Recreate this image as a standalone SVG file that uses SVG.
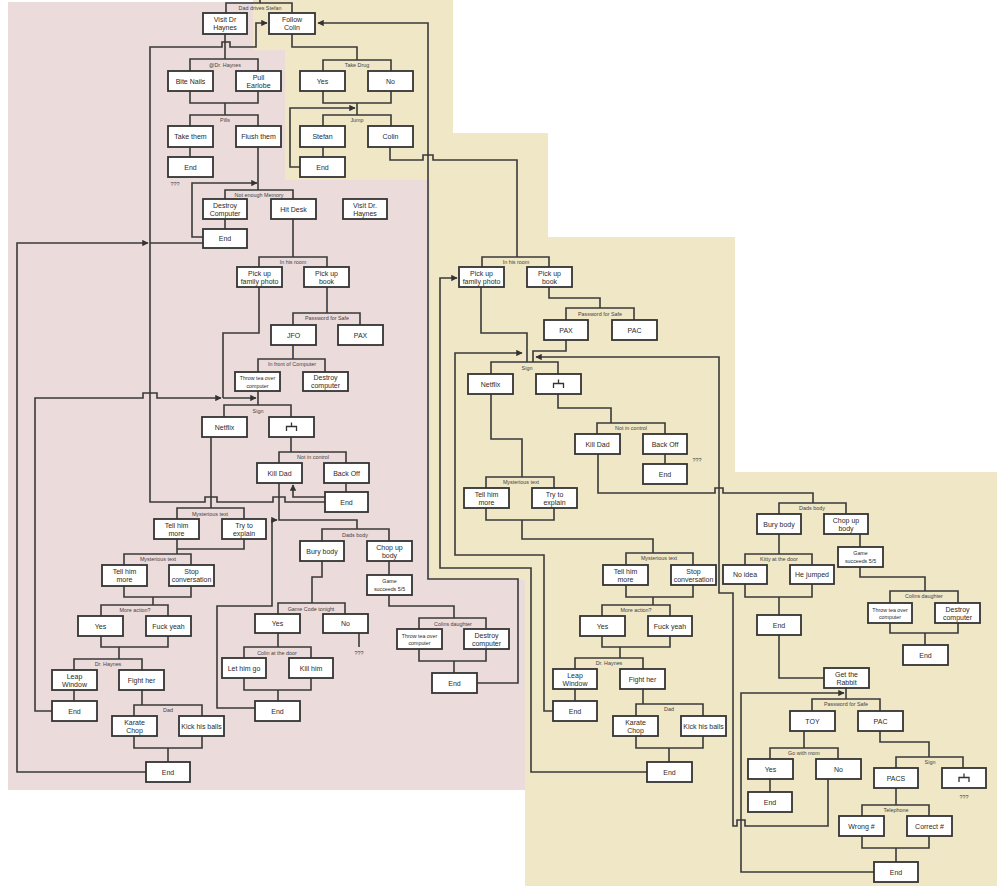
<svg xmlns="http://www.w3.org/2000/svg" width="1000" height="886" viewBox="0 0 1000 886">
<style>
.bg-y{fill:#efe7c6}
.bg-p{fill:#ecdbdb}
.node rect{fill:#fff;stroke:#333;stroke-width:1.8}
.node text{font-family:"Liberation Sans",Arial,sans-serif;font-size:7px;fill:#2a2a2a;text-anchor:middle}
.node text.s{font-size:5.3px}
.node .sym{fill:none;stroke:#333;stroke-width:1.3}
#connectors path{fill:none;stroke:#3a3a3a;stroke-width:1.6}
#labels text{font-family:"Liberation Sans",Arial,sans-serif;font-size:5.4px;fill:#444;text-anchor:middle}
</style>
<defs>
<marker id="arr" viewBox="0 0 10 10" refX="9" refY="5" markerWidth="4" markerHeight="4" orient="auto"><path d="M0,0 L10,5 L0,10 z" fill="#333"/></marker>
</defs>
<rect width="1000" height="886" fill="#fff"/>
<path class="bg-y" d="M253,0 H453 V133 H548 V237 H735 V472 H997 V886 H525 V790 H253 Z"/>
<path class="bg-p" d="M8,2 H253 V50 H285 V180 H430 V580 H525 V790 H8 Z"/>

<g id="connectors">
<path d="M260,0 V3 M226,13 V3 H292 V13"/>
<path d="M292,34 V47 H357 V60 M323,71 V60 H391 V71"/>
<path d="M323,91 V103 H391 V91 M357,103 V115 M323,126 V115 H391 V126"/>
<path d="M323,147 V157"/>
<path d="M300,167 H290 V108 H355" marker-end="url(#arr)"/>
<path d="M390,147 V160 H423 V155 H433 V160 H517 V257 M482,267 V257 H549 V267"/>
<path d="M225,34 V59 M190,71 V59 H258 V71"/>
<path d="M190,91 V103 H258 V91 M225,103 V115 M190,126 V115 H258 V126"/>
<path d="M190,147 V157"/>
<path d="M258,147 V190 M225,199 V190 H293 V199"/>
<path d="M225,219 V229"/>
<path d="M203,237 H192 V183 H257" marker-end="url(#arr)"/>
<path d="M146,772 H17 V243 H148" marker-end="url(#arr)"/>
<path d="M150,243 H203"/>
<path d="M325,502 H285 V497 H273 V502 H217 V497 H205 V502 H150 V47 H222 V42 H230 V47 H256 V23 H267" marker-end="url(#arr)"/>
<path d="M325,497 H293 V485" marker-end="url(#arr)"/>
<path d="M346,483 V492"/>
<path d="M291,437 V452 M279,463 V452 H346 V463"/>
<path d="M279,483 V520 H357 V529 M322,541 V529 H389 V541"/>
<path d="M255,708 H217 V606 H272 V520 H277" marker-end="url(#arr)"/>
<path d="M322,561 V577 H312 V603 M278,614 V603 H345 V614"/>
<path d="M359,633 V647"/>
<path d="M278,633 V647 M244,658 V647 H311 V658"/>
<path d="M244,678 V690 H311 V678 M278,690 V701"/>
<path d="M389,561 V575"/>
<path d="M389,595 V606 H454 V618 M419,629 V618 H486 V629"/>
<path d="M419,649 V661 H486 V649 M454,661 V673"/>
<path d="M477,683 H518 V579 H428 V23 H318" marker-end="url(#arr)"/>
<path d="M293,219 V257 M259,267 V257 H327 V267"/>
<path d="M327,287 V313 M293,325 V313 H360 V325"/>
<path d="M293,345 V359 M258,372 V359 H325 V372"/>
<path d="M258,391 V405 M224,417 V405 H291 V417"/>
<path d="M259,287 V333 H223 V398"/>
<path d="M52,711 H35 V398 H143 V393 H157 V398 H221" marker-end="url(#arr)"/>
<path d="M223,398 H256" marker-end="url(#arr)"/>
<path d="M211,437 V508 M177,519 V508 H244 V519"/>
<path d="M177,539 V549 H244 V539 M177,549 V554 M124,565 V554 H191 V565"/>
<path d="M124,586 V597 H191 V586 M153,597 V605 M101,616 V605 H168 V616"/>
<path d="M101,636 V647 H168 V636 M119,647 V659 M74,670 V659 H142 V670"/>
<path d="M74,690 V701"/>
<path d="M142,690 V705 M134,716 V705 H202 V716"/>
<path d="M134,736 V748 H202 V736 M168,748 V762"/>

<path d="M481,287 V333 H527 V362"/>
<path d="M549,287 V298 H600 V308 M566,320 V308 H634 V320"/>
<path d="M566,340 V351 H533 V362 M491,374 V362 H558 V374"/>
<path d="M553,711 H544 V555 H455 V353 H522" marker-end="url(#arr)"/>
<path d="M828,779 V826 H745 V820 H737 V826 H733 V593 H719 V357 H536" marker-end="url(#arr)"/>
<path d="M558,394 V408 H611 V423 M597,434 V423 H665 V434"/>
<path d="M665,454 V464"/>
<path d="M598,454 V493 H715 V488 H723 V493 H813 V503 M779,514 V503 H846 V514"/>
<path d="M491,394 V439 H522 V477 M486,488 V477 H554 V488"/>
<path d="M486,508 V520 H554 V508 M522,520 V539 H653 V553 M626,565 V553 H693 V565"/>
<path d="M626,585 V597 H693 V585 M653,597 V605 M602,616 V605 H670 V616"/>
<path d="M602,636 V647 H670 V636 M620,647 V658 M575,669 V658 H643 V669"/>
<path d="M575,689 V701"/>
<path d="M643,689 V704 M636,716 V704 H703 V716"/>
<path d="M636,736 V748 H703 V736 M669,748 V762"/>
<path d="M647,772 H531 V568 H440 V278 H457" marker-end="url(#arr)"/>

<path d="M779,534 V554 M745,565 V554 H812 V565"/>
<path d="M745,584 V597 H812 V584 M779,597 V615"/>
<path d="M779,635 V678 H824"/>
<path d="M860,534 V547"/>
<path d="M860,567 V577 H925 V591 M890,603 V591 H958 V603"/>
<path d="M890,623 V633 H958 V623 M925,633 V645"/>
<path d="M846,688 V699 M812,711 V699 H880 V711"/>
<path d="M804,731 V748 M770,759 V748 H838 V759"/>
<path d="M770,779 V792"/>
<path d="M880,731 V742 H929 V757 M896,768 V757 H963 V768"/>
<path d="M896,788 V805 M862,816 V805 H929 V816"/>
<path d="M862,836 V848 H929 V836 M896,848 V862"/>
<path d="M874,872 H741 V693 H844" marker-end="url(#arr)"/>
</g>

<g id="labels">
<text x="260" y="10">Dad drives Stefan</text>
<text x="225" y="67">@Dr. Haynes</text>
<text x="225" y="122">Pills</text>
<text x="357" y="67">Take Drug</text>
<text x="357" y="122">Jump</text>
<text x="259" y="197">Not enough Memory</text>
<text x="293" y="264">In his room</text>
<text x="327" y="320">Password for Safe</text>
<text x="292" y="366">In front of Computer</text>
<text x="258" y="413">Sign</text>
<text x="313" y="459">Not in control</text>
<text x="210" y="516">Mysterious text</text>
<text x="158" y="561">Mysterious text</text>
<text x="135" y="612">More action?</text>
<text x="108" y="666">Dr. Haynes</text>
<text x="168" y="712">Dad</text>
<text x="355" y="537">Dads body</text>
<text x="311" y="611">Game Code tonight</text>
<text x="277" y="655">Colin at the door</text>
<text x="453" y="626">Colins daughter</text>
<text x="175" y="186">???</text>
<text x="359" y="655">???</text>
<text x="516" y="264">In his room</text>
<text x="600" y="316">Password for Safe</text>
<text x="527" y="370">Sign</text>
<text x="631" y="430">Not in control</text>
<text x="697" y="462">???</text>
<text x="521" y="484">Mysterious text</text>
<text x="659" y="560">Mysterious text</text>
<text x="636" y="612">More action?</text>
<text x="609" y="665">Dr. Haynes</text>
<text x="669" y="711">Dad</text>
<text x="812" y="510">Dads body</text>
<text x="779" y="561">Kitty at the door</text>
<text x="924" y="598">Colins daughter</text>
<text x="846" y="706">Password for Safe</text>
<text x="804" y="755">Go with mom</text>
<text x="930" y="764">Sign</text>
<text x="964" y="799">???</text>
<text x="896" y="812">Telephone</text>
</g>

<g id="n-visit-dr" class="node"><rect x="203" y="13" width="44" height="21"/><text x="225"><tspan x="225" y="21.5">Visit Dr</tspan><tspan x="225" y="30">Haynes</tspan></text></g>
<g id="n-follow-colin" class="node"><rect x="269" y="13" width="46" height="21"/><text x="292"><tspan x="292" y="21.5">Follow</tspan><tspan x="292" y="30">Colin</tspan></text></g>
<g id="n-bite-nails" class="node"><rect x="168" y="71" width="45" height="20"/><text x="190.5" y="83.5">Bite Nails</text></g>
<g id="n-pull-earlobe" class="node"><rect x="236" y="71" width="45" height="20"/><text x="258.5"><tspan x="258.5" y="79.5">Pull</tspan><tspan x="258.5" y="88">Earlobe</tspan></text></g>
<g id="n-take-them" class="node"><rect x="168" y="126" width="45" height="21"/><text x="190.5" y="139">Take them</text></g>
<g id="n-flush-them" class="node"><rect x="236" y="126" width="45" height="21"/><text x="258.5" y="139">Flush them</text></g>
<g id="n-end-1" class="node"><rect x="168" y="157" width="45" height="20"/><text x="190.5" y="169.5">End</text></g>
<g id="n-yes-drug" class="node"><rect x="300" y="71" width="45" height="20"/><text x="322.5" y="83.5">Yes</text></g>
<g id="n-no-drug" class="node"><rect x="368" y="71" width="45" height="20"/><text x="390.5" y="83.5">No</text></g>
<g id="n-stefan" class="node"><rect x="300" y="126" width="45" height="21"/><text x="322.5" y="139">Stefan</text></g>
<g id="n-colin" class="node"><rect x="368" y="126" width="45" height="21"/><text x="390.5" y="139">Colin</text></g>
<g id="n-end-2" class="node"><rect x="300" y="157" width="45" height="20"/><text x="322.5" y="169.5">End</text></g>
<g id="n-destroy-computer" class="node"><rect x="203" y="199" width="44" height="20"/><text x="225"><tspan x="225" y="207.5">Destroy</tspan><tspan x="225" y="216">Computer</tspan></text></g>
<g id="n-hit-desk" class="node"><rect x="271" y="199" width="45" height="20"/><text x="293.5" y="211.5">Hit Desk</text></g>
<g id="n-visit-dr-2" class="node"><rect x="343" y="199" width="44" height="20"/><text x="365"><tspan x="365" y="207.5">Visit Dr.</tspan><tspan x="365" y="216">Haynes</tspan></text></g>
<g id="n-end-3" class="node"><rect x="203" y="229" width="44" height="19"/><text x="225" y="241">End</text></g>
<g id="n-photo-l" class="node"><rect x="237" y="267" width="45" height="20"/><text x="259.5"><tspan x="259.5" y="275.5">Pick up</tspan><tspan x="259.5" y="284">family photo</tspan></text></g>
<g id="n-book-l" class="node"><rect x="304" y="267" width="45" height="20"/><text x="326.5"><tspan x="326.5" y="275.5">Pick up</tspan><tspan x="326.5" y="284">book</tspan></text></g>
<g id="n-jfo" class="node"><rect x="271" y="325" width="45" height="20"/><text x="293.5" y="337.5">JFO</text></g>
<g id="n-pax-l" class="node"><rect x="338" y="325" width="45" height="20"/><text x="360.5" y="337.5">PAX</text></g>
<g id="n-throw-tea-l" class="node"><rect x="235" y="372" width="45" height="19"/><text class="s" x="257.5"><tspan x="257.5" y="380">Throw tea over</tspan><tspan x="257.5" y="387.5">computer</tspan></text></g>
<g id="n-destroy-comp-l" class="node"><rect x="303" y="372" width="45" height="19"/><text x="325.5"><tspan x="325.5" y="380">Destroy</tspan><tspan x="325.5" y="388">computer</tspan></text></g>
<g id="n-netflix-l" class="node"><rect x="202" y="417" width="45" height="20"/><text x="224.5" y="429.5">Netflix</text></g>
<g id="n-sign-sym-l" class="node"><rect x="269" y="417" width="45" height="20"/><path class="sym" d="M286.5,431 V426.5 H296.5 V431 M291.5,426.5 V422.5"/></g>
<g id="n-kill-dad-l" class="node"><rect x="257" y="463" width="45" height="20"/><text x="279.5" y="475.5">Kill Dad</text></g>
<g id="n-back-off-l" class="node"><rect x="324" y="463" width="45" height="20"/><text x="346.5" y="475.5">Back Off</text></g>
<g id="n-end-4" class="node"><rect x="325" y="492" width="43" height="20"/><text x="346.5" y="504.5">End</text></g>
<g id="n-tell-more-1l" class="node"><rect x="154" y="519" width="45" height="20"/><text x="176.5"><tspan x="176.5" y="527.5">Tell him</tspan><tspan x="176.5" y="536">more</tspan></text></g>
<g id="n-try-explain-l" class="node"><rect x="222" y="519" width="44" height="20"/><text x="244"><tspan x="244" y="527.5">Try to</tspan><tspan x="244" y="536">explain</tspan></text></g>
<g id="n-tell-more-2l" class="node"><rect x="102" y="565" width="45" height="21"/><text x="124.5"><tspan x="124.5" y="573.5">Tell him</tspan><tspan x="124.5" y="582">more</tspan></text></g>
<g id="n-stop-conv-l" class="node"><rect x="169" y="565" width="45" height="21"/><text x="191.5"><tspan x="191.5" y="573.5">Stop</tspan><tspan x="191.5" y="582">conversation</tspan></text></g>
<g id="n-yes-l" class="node"><rect x="78" y="616" width="45" height="20"/><text x="100.5" y="628.5">Yes</text></g>
<g id="n-fuck-yeah-l" class="node"><rect x="146" y="616" width="45" height="20"/><text x="168.5" y="628.5">Fuck yeah</text></g>
<g id="n-leap-l" class="node"><rect x="52" y="670" width="45" height="20"/><text x="74.5"><tspan x="74.5" y="678.5">Leap</tspan><tspan x="74.5" y="687">Window</tspan></text></g>
<g id="n-fight-l" class="node"><rect x="119" y="670" width="45" height="20"/><text x="141.5" y="682.5">Fight her</text></g>
<g id="n-end-5" class="node"><rect x="52" y="701" width="45" height="20"/><text x="74.5" y="713.5">End</text></g>
<g id="n-karate-l" class="node"><rect x="112" y="716" width="45" height="20"/><text x="134.5"><tspan x="134.5" y="724.5">Karate</tspan><tspan x="134.5" y="733">Chop</tspan></text></g>
<g id="n-kick-l" class="node"><rect x="179" y="716" width="45" height="20"/><text x="201.5" y="728.5">Kick his balls</text></g>
<g id="n-end-6" class="node"><rect x="146" y="762" width="44" height="20"/><text x="168" y="774.5">End</text></g>
<g id="n-bury-l" class="node"><rect x="300" y="541" width="44" height="20"/><text x="322" y="553.5">Bury body</text></g>
<g id="n-chop-l" class="node"><rect x="367" y="541" width="45" height="20"/><text x="389.5"><tspan x="389.5" y="549.5">Chop up</tspan><tspan x="389.5" y="558">body</tspan></text></g>
<g id="n-game-l" class="node"><rect x="367" y="575" width="45" height="20"/><text class="s" x="389.5"><tspan x="389.5" y="583">Game</tspan><tspan x="389.5" y="591">succeeds 5/5</tspan></text></g>
<g id="n-yes-game" class="node"><rect x="255" y="614" width="45" height="19"/><text x="277.5" y="626">Yes</text></g>
<g id="n-no-game" class="node"><rect x="323" y="614" width="45" height="19"/><text x="345.5" y="626">No</text></g>
<g id="n-let-go" class="node"><rect x="222" y="658" width="44" height="20"/><text x="244" y="670.5">Let him go</text></g>
<g id="n-kill-him" class="node"><rect x="289" y="658" width="44" height="20"/><text x="311" y="670.5">Kill him</text></g>
<g id="n-end-7" class="node"><rect x="255" y="701" width="45" height="20"/><text x="277.5" y="713.5">End</text></g>
<g id="n-throw-tea-l2" class="node"><rect x="397" y="629" width="45" height="20"/><text class="s" x="419.5"><tspan x="419.5" y="637.5">Throw tea over</tspan><tspan x="419.5" y="645">computer</tspan></text></g>
<g id="n-destroy-l2" class="node"><rect x="464" y="629" width="45" height="20"/><text x="486.5"><tspan x="486.5" y="637.5">Destroy</tspan><tspan x="486.5" y="646">computer</tspan></text></g>
<g id="n-end-8" class="node"><rect x="432" y="673" width="45" height="20"/><text x="454.5" y="685.5">End</text></g>

<g id="n-photo-r" class="node"><rect x="459" y="267" width="45" height="20"/><text x="481.5"><tspan x="481.5" y="275.5">Pick up</tspan><tspan x="481.5" y="284">family photo</tspan></text></g>
<g id="n-book-r" class="node"><rect x="527" y="267" width="45" height="20"/><text x="549.5"><tspan x="549.5" y="275.5">Pick up</tspan><tspan x="549.5" y="284">book</tspan></text></g>
<g id="n-pax-r" class="node"><rect x="544" y="320" width="44" height="20"/><text x="566" y="332.5">PAX</text></g>
<g id="n-pac-r" class="node"><rect x="612" y="320" width="45" height="20"/><text x="634.5" y="332.5">PAC</text></g>
<g id="n-netflix-r" class="node"><rect x="468" y="374" width="45" height="20"/><text x="490.5" y="386.5">Netflix</text></g>
<g id="n-sign-sym-r" class="node"><rect x="536" y="374" width="45" height="20"/><path class="sym" d="M553.5,388 V383.5 H563.5 V388 M558.5,383.5 V379.5"/></g>
<g id="n-kill-dad-r" class="node"><rect x="575" y="434" width="45" height="20"/><text x="597.5" y="446.5">Kill Dad</text></g>
<g id="n-back-off-r" class="node"><rect x="643" y="434" width="44" height="20"/><text x="665" y="446.5">Back Off</text></g>
<g id="n-end-9" class="node"><rect x="643" y="464" width="44" height="20"/><text x="665" y="476.5">End</text></g>
<g id="n-tell-more-1r" class="node"><rect x="464" y="488" width="45" height="20"/><text x="486.5"><tspan x="486.5" y="496.5">Tell him</tspan><tspan x="486.5" y="505">more</tspan></text></g>
<g id="n-try-explain-r" class="node"><rect x="532" y="488" width="45" height="20"/><text x="554.5"><tspan x="554.5" y="496.5">Try to</tspan><tspan x="554.5" y="505">explain</tspan></text></g>
<g id="n-tell-more-2r" class="node"><rect x="603" y="565" width="45" height="20"/><text x="625.5"><tspan x="625.5" y="573.5">Tell him</tspan><tspan x="625.5" y="582">more</tspan></text></g>
<g id="n-stop-conv-r" class="node"><rect x="671" y="565" width="45" height="20"/><text x="693.5"><tspan x="693.5" y="573.5">Stop</tspan><tspan x="693.5" y="582">conversation</tspan></text></g>
<g id="n-yes-r" class="node"><rect x="580" y="616" width="45" height="20"/><text x="602.5" y="628.5">Yes</text></g>
<g id="n-fuck-yeah-r" class="node"><rect x="648" y="616" width="44" height="20"/><text x="670" y="628.5">Fuck yeah</text></g>
<g id="n-leap-r" class="node"><rect x="553" y="669" width="44" height="20"/><text x="575"><tspan x="575" y="677.5">Leap</tspan><tspan x="575" y="686">Window</tspan></text></g>
<g id="n-fight-r" class="node"><rect x="620" y="669" width="45" height="20"/><text x="642.5" y="681.5">Fight her</text></g>
<g id="n-end-10" class="node"><rect x="553" y="701" width="44" height="20"/><text x="575" y="713.5">End</text></g>
<g id="n-karate-r" class="node"><rect x="613" y="716" width="45" height="20"/><text x="635.5"><tspan x="635.5" y="724.5">Karate</tspan><tspan x="635.5" y="733">Chop</tspan></text></g>
<g id="n-kick-r" class="node"><rect x="681" y="716" width="45" height="20"/><text x="703.5" y="728.5">Kick his balls</text></g>
<g id="n-end-11" class="node"><rect x="647" y="762" width="45" height="20"/><text x="669.5" y="774.5">End</text></g>
<g id="n-bury-r" class="node"><rect x="757" y="514" width="44" height="20"/><text x="779" y="526.5">Bury body</text></g>
<g id="n-chop-r" class="node"><rect x="824" y="514" width="44" height="20"/><text x="846"><tspan x="846" y="522.5">Chop up</tspan><tspan x="846" y="531">body</tspan></text></g>
<g id="n-game-r" class="node"><rect x="838" y="547" width="45" height="20"/><text class="s" x="860.5"><tspan x="860.5" y="555">Game</tspan><tspan x="860.5" y="563">succeeds 5/5</tspan></text></g>
<g id="n-no-idea" class="node"><rect x="723" y="565" width="44" height="19"/><text x="745" y="577">No idea</text></g>
<g id="n-he-jumped" class="node"><rect x="790" y="565" width="44" height="19"/><text x="812" y="577">He jumped</text></g>
<g id="n-end-12" class="node"><rect x="757" y="615" width="44" height="20"/><text x="779" y="627.5">End</text></g>
<g id="n-throw-tea-r" class="node"><rect x="868" y="603" width="44" height="20"/><text class="s" x="890"><tspan x="890" y="611.5">Throw tea over</tspan><tspan x="890" y="619">computer</tspan></text></g>
<g id="n-destroy-r" class="node"><rect x="935" y="603" width="45" height="20"/><text x="957.5"><tspan x="957.5" y="611.5">Destroy</tspan><tspan x="957.5" y="620">computer</tspan></text></g>
<g id="n-end-13" class="node"><rect x="903" y="645" width="45" height="20"/><text x="925.5" y="657.5">End</text></g>
<g id="n-rabbit" class="node"><rect x="824" y="668" width="45" height="20"/><text x="846.5"><tspan x="846.5" y="676.5">Get the</tspan><tspan x="846.5" y="685">Rabbit</tspan></text></g>
<g id="n-toy" class="node"><rect x="790" y="711" width="45" height="20"/><text x="812.5" y="723.5">TOY</text></g>
<g id="n-pac-r2" class="node"><rect x="858" y="711" width="45" height="20"/><text x="880.5" y="723.5">PAC</text></g>
<g id="n-yes-mom" class="node"><rect x="748" y="759" width="45" height="20"/><text x="770.5" y="771.5">Yes</text></g>
<g id="n-no-mom" class="node"><rect x="816" y="759" width="45" height="20"/><text x="838.5" y="771.5">No</text></g>
<g id="n-end-14" class="node"><rect x="748" y="792" width="44" height="20"/><text x="770" y="804.5">End</text></g>
<g id="n-pacs" class="node"><rect x="874" y="768" width="44" height="20"/><text x="896" y="780.5">PACS</text></g>
<g id="n-sign-sym-r2" class="node"><rect x="942" y="768" width="44" height="20"/><path class="sym" d="M959,782 V777.5 H969 V782 M964,777.5 V773.5"/></g>
<g id="n-wrong" class="node"><rect x="839" y="816" width="45" height="20"/><text x="861.5" y="828.5">Wrong #</text></g>
<g id="n-correct" class="node"><rect x="907" y="816" width="45" height="20"/><text x="929.5" y="828.5">Correct #</text></g>
<g id="n-end-15" class="node"><rect x="874" y="862" width="44" height="20"/><text x="896" y="874.5">End</text></g>
</svg>
